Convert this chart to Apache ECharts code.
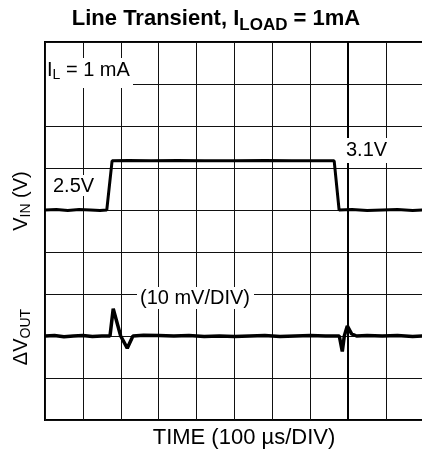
<!DOCTYPE html>
<html>
<head>
<meta charset="utf-8">
<script src="https://cdn.jsdelivr.net/npm/echarts@6/dist/echarts.min.js"></script>
<style>
html,body{margin:0;padding:0;background:#fff;}
#chart{width:422px;height:452px;}
</style>
</head>
<body>
<div id="chart"></div>
<script>
// Time in divisions (100 us/DIV), vertical position in divisions from bottom of screen
const xDivisions = [0, 10];
const yDivisions = [0, 9];
const markerDivision = 8;

// V_IN trace: [time div, screen div]
const vinTrace = [
  [0, 5.0], [0.3, 5.01], [0.6, 4.99], [0.9, 5.01], [1.2, 5.0], [1.45, 4.99], [1.63, 5.0],
  [1.77, 6.17], [2.2, 6.18], [2.8, 6.17], [3.5, 6.18], [4.2, 6.17], [5.0, 6.17],
  [5.8, 6.18], [6.5, 6.17], [7.2, 6.17], [7.63, 6.17],
  [7.76, 5.0], [8.1, 5.01], [8.5, 4.99], [8.9, 5.0], [9.3, 5.01], [9.7, 4.99], [10, 5.0]
];

// Delta V_OUT trace: [time div, screen div]
const voutTrace = [
  [0, 2.0], [0.25, 2.01], [0.5, 1.98], [0.75, 2.0], [1.0, 2.01], [1.25, 1.99], [1.5, 2.0],
  [1.715, 2.0], [1.80, 2.65], [1.997, 2.0], [2.17, 1.71], [2.32, 2.0], [2.6, 2.02],
  [3.0, 2.01], [3.4, 2.0], [3.8, 2.01], [4.2, 1.99], [4.6, 2.0], [5.0, 1.99], [5.4, 2.0],
  [5.8, 2.01], [6.2, 1.99], [6.6, 2.0], [7.0, 2.01], [7.4, 2.0], [7.765, 2.0],
  [7.844, 1.63], [7.897, 2.0], [7.976, 2.24], [8.09, 2.05], [8.22, 2.0], [8.5, 2.01],
  [8.9, 2.0], [9.3, 2.01], [9.7, 1.99], [10, 2.0]
];

const titleText = '{a|Line Transient, I}{s|LOAD}{a| = 1mA}';
const xTitle = 'TIME (100 µs/DIV)';
const vinTitle = '{a|V}{s|IN}{a| (V)}';
const voutTitle = '{a|ΔV}{s|OUT}';
const loadLabel = '{a|I}{s|L}{a| = 1 mA}';
const lowLabel = '2.5V';
const highLabel = '3.1V';
const scaleLabel = '(10 mV/DIV)';

const FONT = '"Liberation Sans", Arial, Helvetica, sans-serif';
const chart = echarts.init(document.getElementById('chart'), null, {renderer: 'canvas'});

function txt(x, y, text, opts) {
  opts = opts || {};
  return {
    type: 'text', z: 60, x: x, y: y, rotation: opts.rotation || 0,
    style: {
      text: text, fill: '#000',
      fontFamily: FONT, fontSize: opts.size || 20, fontWeight: opts.weight || 'normal',
      align: opts.align || 'left', verticalAlign: 'middle',
      rich: opts.rich
    }
  };
}
function box(x, y, w, h) {
  return {type: 'rect', z: 55, shape: {x: x, y: y, width: w, height: h}, style: {fill: '#fff'}};
}
const richNormal = {
  a: {fontSize: 20, fontFamily: FONT, color: '#000'},
  s: {fontSize: 14, fontFamily: FONT, color: '#000', padding: [10, 0, 0, 0]}
};
const richTitle = {
  a: {fontSize: 22, fontWeight: 'bold', fontFamily: FONT, color: '#000'},
  s: {fontSize: 17, fontWeight: 'bold', fontFamily: FONT, color: '#000', padding: [12, 0, 0, 0]}
};

chart.setOption({
  animation: false,
  backgroundColor: '#fff',
  grid: {left: 45, top: 42, width: 379, height: 378, outerBoundsMode: 'none', containLabel: false,
         show: true, borderColor: '#000', borderWidth: 2, backgroundColor: 'transparent'},
  xAxis: {
    type: 'value', min: xDivisions[0], max: xDivisions[1], interval: 1,
    axisLabel: {show: false}, axisTick: {show: false}, axisLine: {show: false},
    splitLine: {show: true, lineStyle: {color: '#111', width: 1}}
  },
  yAxis: {
    type: 'value', min: yDivisions[0], max: yDivisions[1], interval: 1,
    axisLabel: {show: false}, axisTick: {show: false}, axisLine: {show: false},
    splitLine: {show: true, lineStyle: {color: '#111', width: 1}}
  },
  series: [
    {
      type: 'line', data: vinTrace, showSymbol: false, silent: true,
      lineStyle: {color: '#000', width: 3}, itemStyle: {color: '#000'},
      markLine: {
        silent: true, symbol: ['none', 'none'], label: {show: false},
        lineStyle: {color: '#000', width: 2, type: 'solid'},
        data: [{xAxis: markerDivision}]
      }
    },
    {
      type: 'line', data: voutTrace, showSymbol: false, silent: true,
      lineStyle: {color: '#000', width: 3.5}, itemStyle: {color: '#000'}
    }
  ],
  graphic: [
    txt(216, 19, titleText, {align: 'center', rich: richTitle}),
    box(46, 58, 87, 30),
    txt(47, 70, loadLabel, {rich: richNormal}),
    box(50, 175, 48, 21),
    txt(53, 186, lowLabel),
    box(344, 138, 48, 25),
    txt(346, 150, highLabel),
    box(137, 287, 117, 22),
    txt(140, 298, scaleLabel),
    txt(244, 438, xTitle, {align: 'center', size: 22}),
    txt(21, 201, vinTitle, {align: 'center', rotation: Math.PI / 2, rich: richNormal}),
    txt(21, 337, voutTitle, {align: 'center', rotation: Math.PI / 2, rich: richNormal})
  ]
});
</script>
</body>
</html>
